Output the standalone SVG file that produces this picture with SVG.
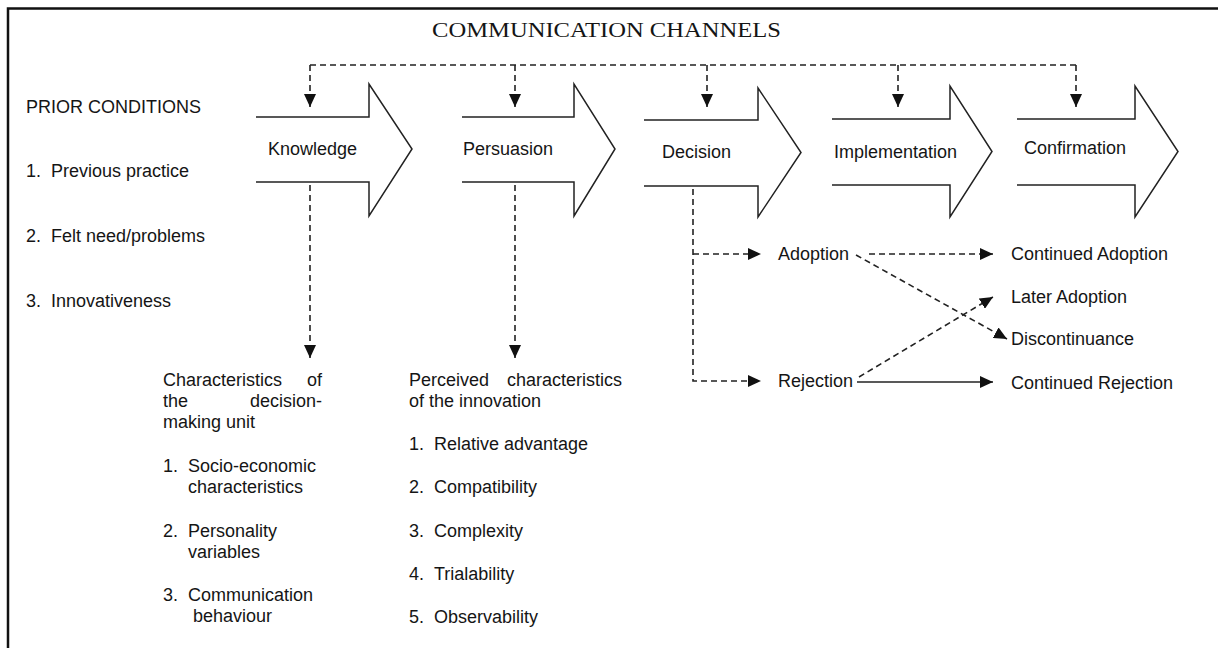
<svg xmlns="http://www.w3.org/2000/svg" width="1218" height="648" viewBox="0 0 1218 648">
<style>
text{font-family:"Liberation Sans",Arial,sans-serif;font-size:18px;fill:#151515}
.title{font-family:"Liberation Serif","Times New Roman",serif;font-size:21px}
.stage{fill:#fff;stroke:#222;stroke-width:1.5;stroke-linejoin:miter}
.dash{fill:none;stroke:#222;stroke-width:1.6;stroke-dasharray:6 4}
.solid{fill:none;stroke:#222;stroke-width:1.6}
.frame{fill:none;stroke:#111;stroke-width:2.5}
</style>
<defs>
<marker id="ah" markerUnits="userSpaceOnUse" markerWidth="13" markerHeight="12" refX="13" refY="6" orient="auto">
<path d="M0,0 L13,6 L0,12 z" fill="#111" stroke="none"/>
</marker>
</defs>
<rect width="1218" height="648" fill="#fff"/>
<path class="frame" d="M8,648 V8.5 H1218"/>
<text class="title" x="432" y="37" textLength="349" lengthAdjust="spacingAndGlyphs">COMMUNICATION CHANNELS</text>

<g id="prior-conditions">
<text x="26" y="113">PRIOR CONDITIONS</text>
<text x="26" y="177">1.</text><text x="51" y="177">Previous practice</text>
<text x="26" y="242">2.</text><text x="51" y="242">Felt need/problems</text>
<text x="26" y="307">3.</text><text x="51" y="307">Innovativeness</text>
</g>

<g id="knowledge">
<path class="stage" d="M256,117 H369 V84 L412,149 L369,216 V182 H256"/>
<text x="268" y="155">Knowledge</text>
</g>
<g id="persuasion">
<path class="stage" d="M462,117 H574 V84 L615,149 L574,216 V182 H462"/>
<text x="463" y="155">Persuasion</text>
</g>
<g id="decision">
<path class="stage" d="M644,120 H758 V88 L801,152.5 L758,217 V186 H644"/>
<text x="662" y="158">Decision</text>
</g>
<g id="implementation">
<path class="stage" d="M832,119 H950 V86 L992,151.5 L950,217 V185 H832"/>
<text x="834" y="158">Implementation</text>
</g>
<g id="confirmation">
<path class="stage" d="M1017,119 H1135 V86 L1178,151.5 L1135,217 V185 H1017"/>
<text x="1024" y="154">Confirmation</text>
</g>

<g id="decision-unit">
<text x="163" y="386">Characteristics</text><text x="322" y="386" text-anchor="end">of</text>
<text x="163" y="407">the</text><text x="322" y="407" text-anchor="end">decision-</text>
<text x="163" y="428">making unit</text>
<text x="163" y="472">1.</text><text x="188" y="472">Socio-economic</text>
<text x="188" y="493">characteristics</text>
<text x="163" y="537">2.</text><text x="188" y="537">Personality</text>
<text x="188" y="558">variables</text>
<text x="163" y="601">3.</text><text x="188" y="601">Communication</text>
<text x="193" y="622">behaviour</text>
</g>

<g id="innovation-characteristics">
<text x="409" y="386">Perceived</text><text x="622" y="386" text-anchor="end">characteristics</text>
<text x="409" y="407">of the innovation</text>
<text x="409" y="450">1.</text><text x="434" y="450">Relative advantage</text>
<text x="409" y="493">2.</text><text x="434" y="493">Compatibility</text>
<text x="409" y="537">3.</text><text x="434" y="537">Complexity</text>
<text x="409" y="580">4.</text><text x="434" y="580">Trialability</text>
<text x="409" y="623">5.</text><text x="434" y="623">Observability</text>
</g>

<g id="adoption"><text x="778" y="260">Adoption</text></g>
<g id="rejection"><text x="778" y="387">Rejection</text></g>
<g id="continued-adoption"><text x="1011" y="260">Continued Adoption</text></g>
<g id="later-adoption"><text x="1011" y="303">Later Adoption</text></g>
<g id="discontinuance"><text x="1011" y="345">Discontinuance</text></g>
<g id="continued-rejection"><text x="1011" y="389">Continued Rejection</text></g>

<g id="connectors">
<path class="dash" d="M310,65 H1076"/>
<path class="dash" d="M310,65 V107" marker-end="url(#ah)"/>
<path class="dash" d="M515,65 V107" marker-end="url(#ah)"/>
<path class="dash" d="M707,65 V107" marker-end="url(#ah)"/>
<path class="dash" d="M898,65 V107" marker-end="url(#ah)"/>
<path class="dash" d="M1076,65 V107" marker-end="url(#ah)"/>
<path class="dash" d="M310,185 V358" marker-end="url(#ah)"/>
<path class="dash" d="M515,185 V358" marker-end="url(#ah)"/>
<path class="dash" d="M693,189 V381 H761" marker-end="url(#ah)"/>
<path class="dash" d="M693,254 H761" marker-end="url(#ah)"/>
<path class="dash" d="M869,254 H993" marker-end="url(#ah)"/>
<path class="dash" d="M856,255 L1007,339" marker-end="url(#ah)"/>
<path class="dash" d="M859,377 L993,297" marker-end="url(#ah)"/>
<path class="solid" d="M857,382 H993" marker-end="url(#ah)"/>
</g>
</svg>
